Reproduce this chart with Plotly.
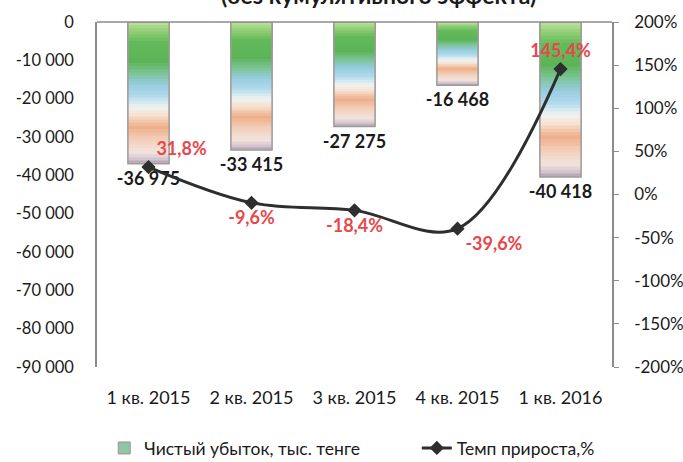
import plotly.graph_objects as go

categories = ["1 кв. 2015", "2 кв. 2015", "3 кв. 2015", "4 кв. 2015", "1 кв. 2016"]
net_loss = [-36975, -33415, -27275, -16468, -40418]
growth_pct = [31.8, -9.6, -18.4, -39.6, 145.4]

left_tickvals = [0, -10000, -20000, -30000, -40000, -50000, -60000, -70000, -80000, -90000]
left_ticktext = ["0", "-10 000", "-20 000", "-30 000", "-40 000", "-50 000",
                 "-60 000", "-70 000", "-80 000", "-90 000"]
right_tickvals = [200, 150, 100, 50, 0, -50, -100, -150, -200]
right_ticktext = ["200%", "150%", "100%", "50%", "0%", "-50%", "-100%", "-150%", "-200%"]

bar_name = "Чистый убыток, тыс. тенге"
line_name = "Темп прироста,%"
title_text = "(без кумулятивного эффекта)"

FONT = "Lato"

# vertical gradient stops for the bar fill (position from top of bar, RGB)
grad_stops = [
    (0.00, (190, 226, 160)),
    (0.06, (150, 208, 120)),
    (0.14, (100, 186, 90)),
    (0.28, (92, 180, 88)),
    (0.36, (124, 196, 150)),
    (0.44, (150, 204, 222)),
    (0.52, (176, 217, 236)),
    (0.60, (240, 244, 242)),
    (0.66, (246, 224, 208)),
    (0.74, (238, 174, 136)),
    (0.82, (243, 204, 182)),
    (0.92, (242, 228, 222)),
    (0.97, (210, 194, 204)),
    (1.00, (170, 158, 170)),
]


def grad_color(t):
    for (p0, c0), (p1, c1) in zip(grad_stops[:-1], grad_stops[1:]):
        if p0 <= t <= p1:
            a = (t - p0) / (p1 - p0) if p1 > p0 else 0
            r, g, b = (round(c0[i] + (c1[i] - c0[i]) * a) for i in range(3))
            return f"rgb({r},{g},{b})"
    r, g, b = grad_stops[-1][1]
    return f"rgb({r},{g},{b})"


N_BANDS = 45
BAR_W = 0.4

fig = go.Figure()

for k in range(N_BANDS, 0, -1):
    frac = k / N_BANDS
    fig.add_trace(go.Bar(
        x=categories, y=[v * frac for v in net_loss],
        marker=dict(color=grad_color((k - 0.5) / N_BANDS), line=dict(width=0)),
        width=BAR_W, yaxis="y", showlegend=False, hoverinfo="skip",
    ))

# outline + value labels
fig.add_trace(go.Bar(
    x=categories, y=net_loss, name=bar_name,
    marker=dict(color="rgba(0,0,0,0)", line=dict(color="#a09a9a", width=1.5)),
    width=BAR_W, yaxis="y",
    text=[f"{v:,}".replace(",", " ") for v in net_loss],
    textposition="outside", cliponaxis=False, constraintext="none",
    textfont=dict(family=FONT, size=18, color="#1a1a1a", weight="bold"),
    showlegend=False,
))
# legend entry for the bars
fig.add_trace(go.Bar(
    x=[categories[0]], y=[None], name=bar_name,
    marker=dict(color="#8cc7a8", line=dict(color="#b08a8a", width=1)),
    yaxis="y", showlegend=True, legend="legend",
))

fig.add_trace(go.Scatter(
    x=categories, y=growth_pct, name=line_name, yaxis="y2",
    mode="lines+markers+text",
    line=dict(color="#2e2e2e", width=3, shape="spline"),
    marker=dict(symbol="diamond", size=11, color="#2e2e2e"),
    text=[(f"{v:.1f}".replace(".", ",") + "%") for v in growth_pct],
    textposition=["top right", "bottom center", "bottom center", "bottom right", "top center"],
    textfont=dict(family=FONT, size=18, color="#e8474b", weight="bold"),
    cliponaxis=False, legend="legend2",
))

legend_style = dict(
    orientation="h", xanchor="left", y=-0.235, yanchor="middle",
    font=dict(family=FONT, size=17.5, color="#1a1a1a"),
    bgcolor="rgba(0,0,0,0)",
)

fig.update_layout(
    width=683, height=462,
    margin=dict(l=97, r=71, t=22, b=95, autoexpand=False),
    paper_bgcolor="white", plot_bgcolor="white",
    barmode="overlay",
    font=dict(family=FONT, size=16, color="#1a1a1a"),
    xaxis=dict(
        showgrid=False, showline=False, zeroline=False,
        ticks="", ticklabelstandoff=18,
        tickfont=dict(family=FONT, size=18, color="#1a1a1a"),
    ),
    yaxis=dict(
        range=[-90000, 0], tickvals=left_tickvals, ticktext=left_ticktext,
        showgrid=False, zeroline=False, showline=True, linecolor="#8c8c8c", linewidth=1.5,
        ticks="", ticklabelstandoff=18,
        tickfont=dict(family=FONT, size=16.5, color="#1a1a1a"),
    ),
    yaxis2=dict(
        range=[-200, 200], tickvals=right_tickvals, ticktext=right_ticktext,
        overlaying="y", side="right",
        showgrid=False, zeroline=False, showline=True, linecolor="#8c8c8c", linewidth=1.5,
        ticks="outside", ticklen=5, tickcolor="#8c8c8c", ticklabelstandoff=12,
        tickfont=dict(family=FONT, size=17, color="#1a1a1a"),
    ),
    legend=dict(x=0.014, **legend_style),
    legend2=dict(x=0.621, **legend_style),
    shapes=[dict(type="line", xref="paper", x0=0, x1=1, yref="y domain", y0=1, y1=1,
                 line=dict(color="#8c8c8c", width=1.5))],
    annotations=[dict(text="<b>" + title_text + "</b>", xref="paper", yref="paper",
                      x=0.546, y=1, yanchor="bottom", yshift=11, showarrow=False,
                      font=dict(family=FONT, size=23, color="#1a1a1a"))],
)

fig.write_html("out.html", config={"displayModeBar": False},
               post_script="document.body.style.margin='0';")
